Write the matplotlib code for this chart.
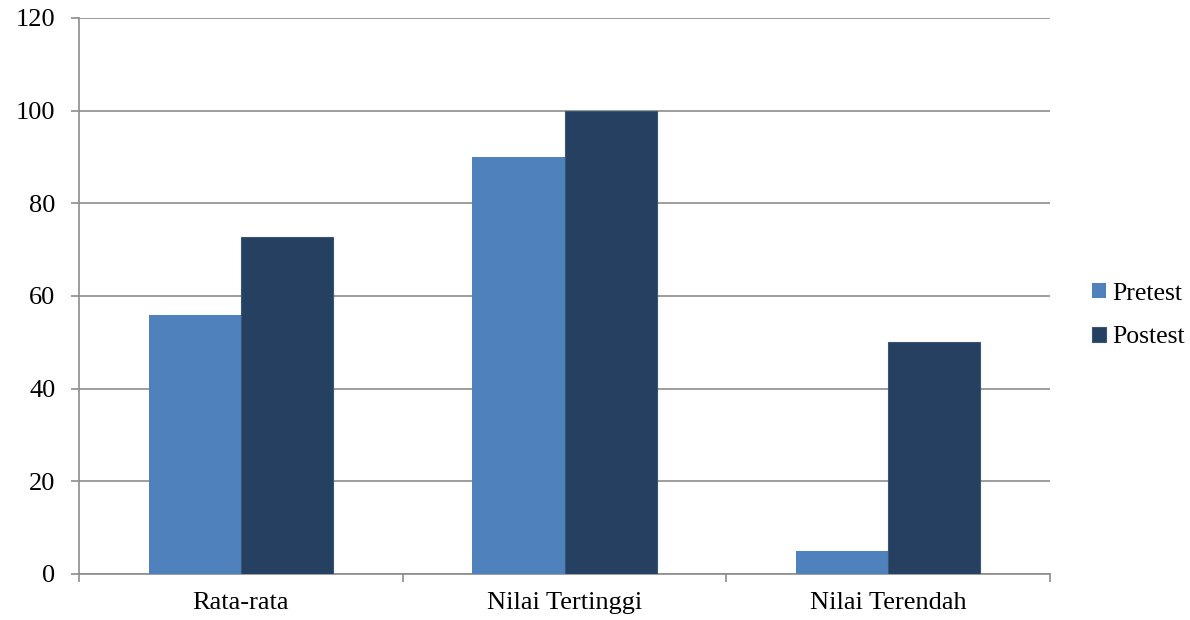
import numpy as np
import matplotlib.pyplot as plt

categories = ["Rata-rata", "Nilai Tertinggi", "Nilai Terendah"]
pretest = [56, 90, 5]
postest = [72.7, 100, 50]
yticks = [0, 20, 40, 60, 80, 100, 120]

plt.rcParams["font.family"] = ["Liberation Serif", "DejaVu Serif"]

fig = plt.figure(figsize=(11.9, 6.2), dpi=100)
ax = fig.add_axes([79 / 1190, 1 - 574 / 620, (1050 - 79) / 1190, (574 - 18) / 620])

x = np.arange(len(categories))
w = 0.285
ax.bar(x - w / 2, pretest, w, color="#4F81BD", label="Pretest", zorder=3)
ax.bar(x + w / 2, postest, w, color="#254061", edgecolor="#3a5675", linewidth=0.8,
       label="Postest", zorder=3)

ax.set_xlim(-0.5, 2.5)
ax.set_ylim(0, 120)
ax.set_yticks(yticks)
ax.yaxis.grid(True, color="#8c8c8c", linewidth=1.2, zorder=0)

# category ticks sit at the boundaries, labels centred
ax.set_xticks([-0.5, 0.5, 1.5, 2.5])
ax.set_xticklabels([])
ax.set_xticks(x, minor=True)
ax.set_xticklabels(categories, minor=True)
ax.tick_params(axis="x", which="minor", length=0, pad=13, labelsize=19)
ax.tick_params(axis="x", which="major", length=6, color="#8c8c8c", width=1.2)
ax.tick_params(axis="y", length=6, color="#8c8c8c", width=1.2, pad=11, labelsize=19)

for s in ["top", "right"]:
    ax.spines[s].set_visible(False)
for s in ["left", "bottom"]:
    ax.spines[s].set_color("#8c8c8c")
    ax.spines[s].set_linewidth(1.2)

ax.legend(loc="center left", bbox_to_anchor=(1.0245, 0.465), frameon=False, fontsize=18.5,
          handlelength=0.55, handleheight=0.55, handletextpad=0.25, labelspacing=0.85,
          borderaxespad=0.3)

fig.savefig("out.png", dpi=100)
